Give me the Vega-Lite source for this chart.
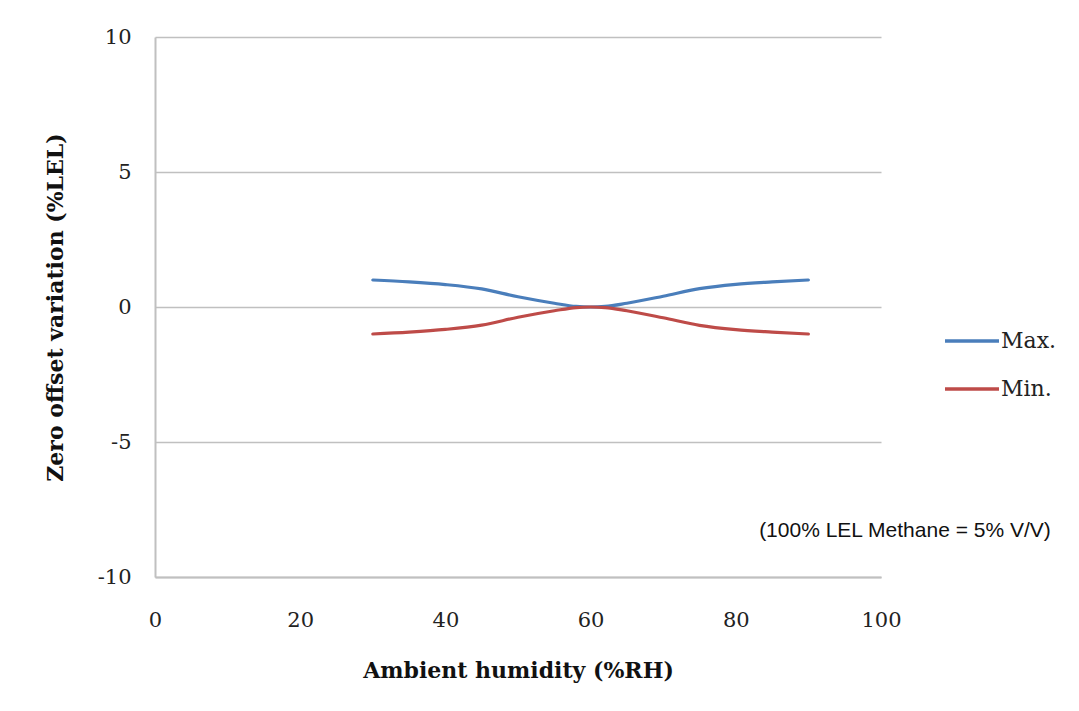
{
  "$schema": "https://vega.github.io/schema/vega-lite/v6.json",
  "width": 726,
  "height": 540,
  "autosize": {"type": "none"},
  "padding": {"left": 155, "top": 37, "right": 198, "bottom": 134},
  "background": "white",
  "config": {
    "view": {"stroke": null},
    "font": "DejaVu Serif"
  },
  "datasets": {
    "curves": [
      {"humidity": 30, "value": 1.0, "series": "Max."},
      {"humidity": 35, "value": 0.93, "series": "Max."},
      {"humidity": 40, "value": 0.83, "series": "Max."},
      {"humidity": 45, "value": 0.67, "series": "Max."},
      {"humidity": 50, "value": 0.38, "series": "Max."},
      {"humidity": 55, "value": 0.14, "series": "Max."},
      {"humidity": 58, "value": 0.02, "series": "Max."},
      {"humidity": 60, "value": 0.0, "series": "Max."},
      {"humidity": 62, "value": 0.02, "series": "Max."},
      {"humidity": 65, "value": 0.14, "series": "Max."},
      {"humidity": 70, "value": 0.4, "series": "Max."},
      {"humidity": 75, "value": 0.68, "series": "Max."},
      {"humidity": 80, "value": 0.84, "series": "Max."},
      {"humidity": 85, "value": 0.93, "series": "Max."},
      {"humidity": 90, "value": 1.0, "series": "Max."},
      {"humidity": 30, "value": -1.0, "series": "Min."},
      {"humidity": 35, "value": -0.93, "series": "Min."},
      {"humidity": 40, "value": -0.83, "series": "Min."},
      {"humidity": 45, "value": -0.67, "series": "Min."},
      {"humidity": 50, "value": -0.38, "series": "Min."},
      {"humidity": 55, "value": -0.14, "series": "Min."},
      {"humidity": 58, "value": -0.02, "series": "Min."},
      {"humidity": 60, "value": 0.0, "series": "Min."},
      {"humidity": 62, "value": -0.02, "series": "Min."},
      {"humidity": 65, "value": -0.14, "series": "Min."},
      {"humidity": 70, "value": -0.4, "series": "Min."},
      {"humidity": 75, "value": -0.68, "series": "Min."},
      {"humidity": 80, "value": -0.84, "series": "Min."},
      {"humidity": 85, "value": -0.93, "series": "Min."},
      {"humidity": 90, "value": -1.0, "series": "Min."}
    ],
    "note": [
      {"humidity": 103.3, "value": -8.3, "label": "(100% LEL Methane = 5% V/V)"}
    ]
  },
  "layer": [
    {
      "data": {"name": "curves"},
      "mark": {"type": "line", "interpolate": "monotone", "strokeWidth": 3.2, "strokeCap": "round"},
      "encoding": {
        "x": {
          "field": "humidity", "type": "quantitative",
          "scale": {"domain": [0, 100], "nice": false},
          "axis": {
            "title": "Ambient humidity (%RH)",
            "values": [0, 20, 40, 60, 80, 100],
            "grid": false, "ticks": false,
            "domainColor": "#c0c0c0", "domainWidth": 2,
            "labelFont": "DejaVu Serif", "labelFontSize": 21, "labelColor": "#222222",
            "labelPadding": 32, "labelFlush": false,
            "titleFont": "DejaVu Serif", "titleFontSize": 22, "titleFontWeight": "bold",
            "titleColor": "#111111", "titlePadding": 30
          }
        },
        "y": {
          "field": "value", "type": "quantitative",
          "scale": {"domain": [-10, 10], "nice": false},
          "axis": {
            "title": "Zero offset variation (%LEL)",
            "values": [-10, -5, 0, 5, 10],
            "labelExpr": "toString(datum.value)",
            "grid": true, "gridColor": "#c0c0c0", "gridWidth": 1.5,
            "ticks": false,
            "domainColor": "#c0c0c0", "domainWidth": 2,
            "labelFont": "DejaVu Serif", "labelFontSize": 21, "labelColor": "#222222",
            "labelPadding": 24,
            "titleFont": "DejaVu Serif", "titleFontSize": 22, "titleFontWeight": "bold",
            "titleColor": "#111111", "titlePadding": 30
          }
        },
        "color": {
          "field": "series", "type": "nominal",
          "scale": {"domain": ["Max.", "Min."], "range": ["#4a7ebb", "#be4b48"]},
          "legend": {
            "title": null,
            "orient": "none",
            "legendX": 788,
            "legendY": 275,
            "symbolType": "stroke",
            "symbolSize": 2916,
            "symbolStrokeWidth": 3.5,
            "labelFont": "DejaVu Serif",
            "labelFontSize": 22,
            "labelColor": "#222222",
            "labelOffset": 0,
            "rowPadding": 8
          }
        }
      }
    },
    {
      "data": {"name": "note"},
      "mark": {"type": "text", "font": "Liberation Sans", "fontSize": 21, "color": "#111111", "align": "center", "baseline": "middle", "clip": false},
      "encoding": {
        "x": {"field": "humidity", "type": "quantitative"},
        "y": {"field": "value", "type": "quantitative"},
        "text": {"field": "label", "type": "nominal"}
      }
    }
  ]
}
